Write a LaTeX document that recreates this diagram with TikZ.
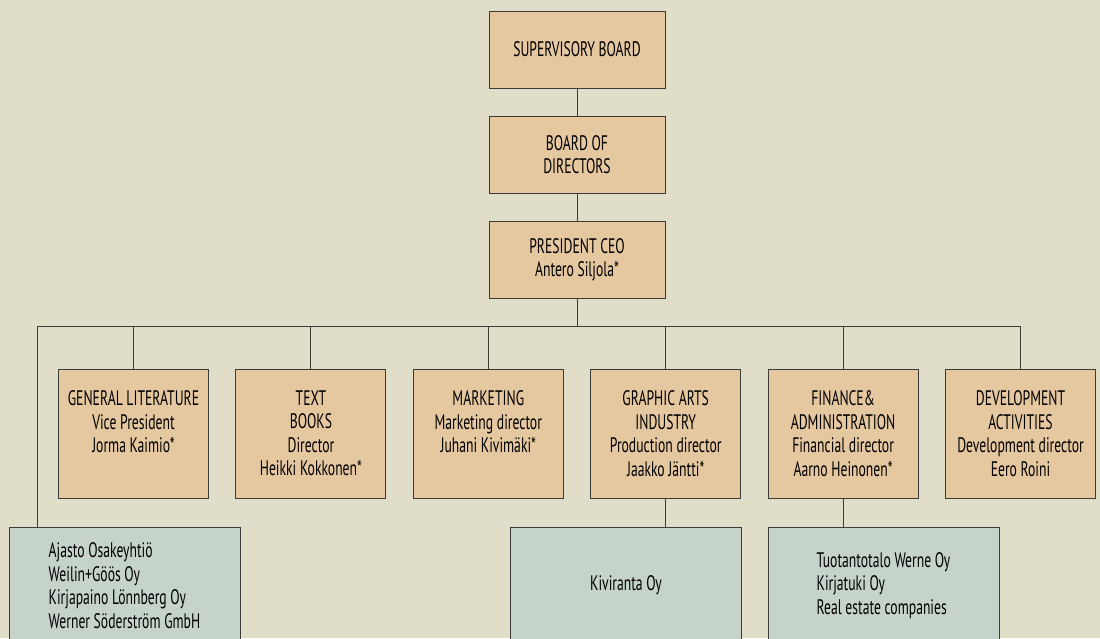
\documentclass[tikz,border=0pt]{standalone}
\usepackage{fontspec}
\setmainfont[FakeStretch=0.65]{PT Sans}
\usepackage{tikz}
\usetikzlibrary{positioning}
\definecolor{bgcolor}{HTML}{E0DEC9}
\definecolor{boardfill}{HTML}{E5C7A0}
\definecolor{companyfill}{HTML}{C5D3CA}
\definecolor{edge}{HTML}{3A3A36}
\newcommand{\orgfont}{\fontsize{21}{23.5}\selectfont}
\tikzstyle{board} = [draw=edge, fill=boardfill, line width=0.9pt, align=center, minimum width=176pt, minimum height=77pt, font=\orgfont]
\tikzstyle{dept} = [draw=edge, fill=boardfill, line width=0.9pt, minimum width=150pt, minimum height=129pt]
\tikzstyle{depttext} = [align=center, inner sep=0pt, font=\orgfont]
\tikzstyle{company} = [draw=edge, fill=companyfill, line width=0.9pt, align=left, minimum width=231pt, minimum height=117pt, font=\orgfont]
\tikzstyle{line} = [draw, line width=0.9pt, color=edge]
\newcommand{\board}[2]{node (b#1) [board] {#2}}
\newcommand{\dept}[2]{node (d#1) [dept] {} node (t#1) [depttext, below=22pt of d#1.north] {#2}}
\newcommand{\company}[2]{node (c#1) [company] {#2}}

\begin{document}
\begin{tikzpicture}[x=1pt,y=-1pt]
\useasboundingbox (0,0) rectangle (1100,638);
\clip (0,0) rectangle (1100,638);
\fill [bgcolor] (0,0) rectangle (1100,638);

\path (577,49.5) \board{1}{SUPERVISORY BOARD};
\path (b1)+(0,105) \board{2}{BOARD OF\\DIRECTORS};
\path [line] (b1.south) -- (b2.north);
\path (b2)+(0,105) \board{3}{PRESIDENT CEO\\Antero Siljola*};
\path [line] (b2.south) -- (b3.north);

\path (133.5,433.5) \dept{1}{GENERAL LITERATURE\\Vice President\\Jorma Kaimio*};
\path (d1)+(177.4,0) \dept{2}{TEXT\\BOOKS\\Director\\Heikki Kokkonen*};
\path (d2)+(177.4,0) \dept{3}{MARKETING\\Marketing director\\Juhani Kivimäki*};
\path (d3)+(177.4,0) \dept{4}{GRAPHIC ARTS\\INDUSTRY\\Production director\\Jaakko Jäntti*};
\path (d4)+(177.4,0) \dept{5}{FINANCE\&\\ADMINISTRATION\\Financial director\\Aarno Heinonen*};
\path (d5)+(177.4,0) \dept{6}{DEVELOPMENT\\ACTIVITIES\\Development director\\Eero Roini};

\coordinate (hl) at (37,326);
\path [line] (hl) -- (hl -| d6.north);
\path [line] (b3.south) -- (b3.south |- hl);
\path [line] (d1.north) -- (d1.north |- hl);
\path [line] (d2.north) -- (d2.north |- hl);
\path [line] (d3.north) -- (d3.north |- hl);
\path [line] (d4.north) -- (d4.north |- hl);
\path [line] (d5.north) -- (d5.north |- hl);
\path [line] (d6.north) -- (d6.north |- hl);

\path (124.5,585.5) \company{1}{Ajasto Osakeyhtiö\\Weilin+Göös Oy\\Kirjapaino Lönnberg Oy\\Werner Söderström GmbH};
\path (626,585.5) \company{2}{Kiviranta Oy};
\path (883.5,585.5) \company{3}{Tuotantotalo Werne Oy\\Kirjatuki Oy\\Real estate companies};
\path [line] (hl) -- (hl |- c1.north);
\path [line] (d4.south) -- (d4.south |- c2.north);
\path [line] (d5.south) -- (d5.south |- c3.north);
\end{tikzpicture}
\end{document}
